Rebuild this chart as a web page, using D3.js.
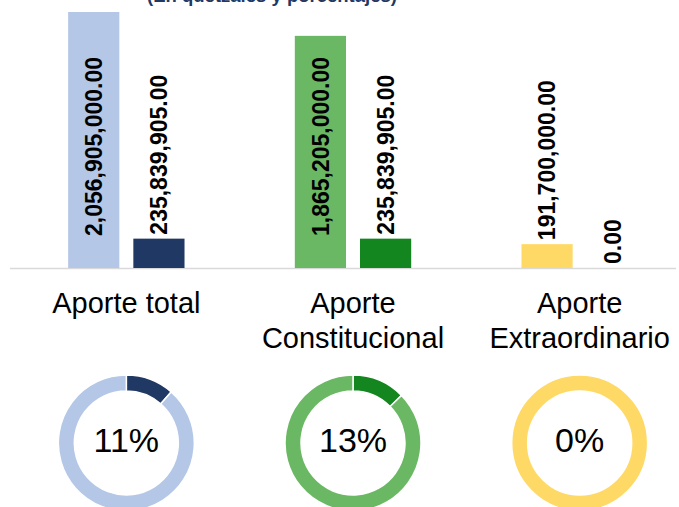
<!DOCTYPE html>
<html>
<head>
<meta charset="utf-8">
<script src="https://cdn.jsdelivr.net/npm/d3@7"></script>
<style>
  body { margin: 0; background: #fff; }
  svg { display: block; font-family: "Liberation Sans", Arial, sans-serif; }
</style>
</head>
<body>
<div id="chart"></div>
<script>
const title = '(En quetzales y porcentajes)';
const categories = ['Aporte total', 'Aporte Constitucional', 'Aporte Extraordinario'];
const categoryLines = [['Aporte total'], ['Aporte', 'Constitucional'], ['Aporte', 'Extraordinario']];
const series = ['asignado', 'ejecutado'];
const asignado = [2056905000, 1865205000, 191700000];
const ejecutado = [235839905, 235839905, 0];
const lightColors = ['#b4c7e7', '#6bb864', '#ffd966'];
const darkColors = ['#203864', '#13861f', '#ffd966'];

const width = 679;
const height = 507;
const baseY = 268;
const topY = 12;

const svg = d3
  .select('#chart')
  .append('svg')
  .attr('width', width)
  .attr('height', height);

// title (cut off at the top in the original)
svg
  .append('text')
  .attr('x', 272)
  .attr('y', 1.5)
  .attr('text-anchor', 'middle')
  .attr('font-size', 18.5)
  .attr('font-weight', 'bold')
  .attr('fill', '#1f3864')
  .text(title);

// scales
const x0 = d3.scaleBand().domain(categories).range([13, 693]);
const x1 = d3
  .scaleBand()
  .domain(series)
  .range([0, x0.bandwidth()])
  .paddingInner(0.215)
  .paddingOuter(0.846);
const y = d3.scaleLinear().domain([0, d3.max(asignado)]).range([baseY, topY]);

const rows = categories.map((c, i) => ({
  cat: c,
  i,
  values: [
    { key: 'asignado', value: asignado[i], color: lightColors[i] },
    { key: 'ejecutado', value: ejecutado[i], color: darkColors[i] },
  ],
}));

// axis line
svg
  .append('line')
  .attr('x1', 10)
  .attr('x2', 676)
  .attr('y1', baseY + 0.5)
  .attr('y2', baseY + 0.5)
  .attr('stroke', '#d9d9d9')
  .attr('stroke-width', 1.5);

const groups = svg
  .selectAll('g.grp')
  .data(rows)
  .join('g')
  .attr('class', 'grp')
  .attr('transform', (d) => `translate(${x0(d.cat)},0)`);

groups
  .selectAll('rect')
  .data((d) => d.values)
  .join('rect')
  .attr('x', (d) => x1(d.key))
  .attr('y', (d) => y(d.value))
  .attr('width', x1.bandwidth())
  .attr('height', (d) => baseY - y(d.value))
  .attr('fill', (d) => d.color);

const fmt = d3.format(',.2f');
const labelSize = 23;

groups
  .selectAll('text.val')
  .data((d) => d.values)
  .join('text')
  .attr('class', 'val')
  .attr('font-size', labelSize)
  .attr('font-weight', 'bold')
  .attr('fill', '#000')
  .attr('dy', '0.36em')
  .attr('transform', (d) => {
    const txt = fmt(d.value);
    const cx = x1(d.key) + x1.bandwidth() / 2;
    const barH = baseY - y(d.value);
    // label inside the bar when it fits, otherwise just above it
    const start = barH > txt.length * labelSize * 0.5 + 40 ? baseY - 32 : y(d.value) - 4;
    return `translate(${cx},${start}) rotate(-90)`;
  })
  .text((d) => fmt(d.value));

// category labels
groups
  .append('text')
  .attr('class', 'cat')
  .attr('text-anchor', 'middle')
  .attr('font-size', 29)
  .attr('fill', '#000')
  .selectAll('tspan')
  .data((d) => categoryLines[d.i])
  .join('tspan')
  .attr('x', x0.bandwidth() / 2)
  .attr('y', (d, j) => 313 + j * 35)
  .text((d) => d);

// donuts
const pie = d3.pie().sort(null).value((d) => d.v);
const arc = d3.arc().innerRadius(52).outerRadius(68);
const donutY = 443;

const donuts = svg
  .selectAll('g.donut')
  .data(rows)
  .join('g')
  .attr('class', 'donut')
  .attr('transform', (d) => `translate(${x0(d.cat) + x0.bandwidth() / 2},${donutY})`);

donuts
  .selectAll('path')
  .data((d) =>
    pie([
      { v: ejecutado[d.i], color: darkColors[d.i] },
      { v: asignado[d.i] - ejecutado[d.i], color: lightColors[d.i] },
    ])
  )
  .join('path')
  .attr('d', arc)
  .attr('fill', (d) => d.data.color)
  .attr('stroke', '#fff')
  .attr('stroke-width', 1.5);

donuts
  .append('text')
  .attr('text-anchor', 'middle')
  .attr('y', -3)
  .attr('dy', '0.36em')
  .attr('font-size', 34)
  .attr('fill', '#000')
  .text((d) => Math.round((ejecutado[d.i] / asignado[d.i]) * 100) + '%');
</script>
</body>
</html>
